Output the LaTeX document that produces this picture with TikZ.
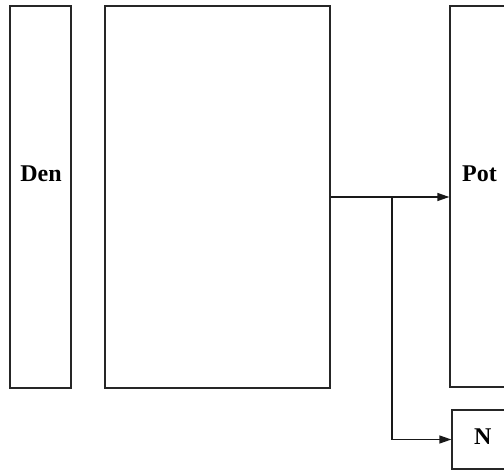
\documentclass[tikz,border=0pt]{standalone}
\usepackage{fontspec}
\setmainfont{Liberation Serif}
\usetikzlibrary{arrows.meta}
\begin{document}
\begin{tikzpicture}[x=1pt,y=1pt,
  box/.style={draw=black!85, line width=1.3pt, inner sep=0pt, fill=none},
  lbl/.style={font=\bfseries\fontsize{24}{24}\selectfont, inner sep=0pt},
  arr/.style={draw=black!90, line width=1.3pt, -{Triangle[length=12pt,width=8pt]}}]
\useasboundingbox (0,0) rectangle (504,-471);
\clip (0,0) rectangle (504,-471);
\node[box, minimum width=61, minimum height=382] (den) at (40.5,-197) {};
\node[box, minimum width=225, minimum height=382] (mid) at (217.5,-197) {};
\node[box, minimum width=110, minimum height=381] (pot) at (505,-196.5) {};
\node[box, minimum width=108, minimum height=59] (nbox) at (506,-439.5) {};
\node[lbl] (dentxt) at (41,-174) {Den};
\node[lbl, anchor=west] (pottxt) at (462,-174) {Pot};
\node[lbl, anchor=west] (ntxt) at (474,-437) {N};
\coordinate (br) at (392,-197);
\draw[arr] (mid.east) -- (mid.east -| pot.west);
\draw[arr] (br) |- (nbox.west);
\end{tikzpicture}
\end{document}
